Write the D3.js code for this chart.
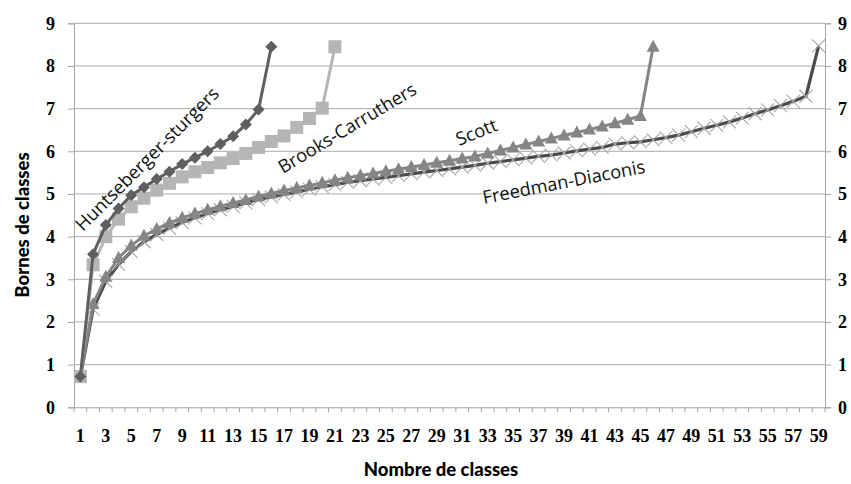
<!DOCTYPE html>
<html><head><meta charset="utf-8">
<script src="https://cdn.jsdelivr.net/npm/d3@7"></script>
<style>body{margin:0;background:#fff}svg{display:block}</style>
</head><body>
<svg id="c" width="851" height="484"></svg>
<script>
// ---- data ----
const categories = d3.range(1, 60); // 1..59
const yTicks = [0,1,2,3,4,5,6,7,8,9];
const xTickLabels = categories.filter(c => c % 2 === 1);
const huntseberger = [0.72,3.59,4.27,4.66,4.97,5.16,5.35,5.52,5.70,5.85,6.00,6.17,6.35,6.63,6.98,8.45];
const brooks = [0.72,3.34,4.00,4.41,4.70,4.90,5.09,5.25,5.40,5.52,5.62,5.73,5.83,5.95,6.09,6.23,6.36,6.56,6.77,7.01,8.45];
const scott = [0.72,2.42,3.06,3.50,3.79,4.02,4.18,4.32,4.44,4.54,4.63,4.71,4.79,4.86,4.94,5.01,5.08,5.14,5.20,5.26,
  5.32,5.38,5.43,5.48,5.53,5.58,5.63,5.68,5.73,5.78,5.83,5.88,5.95,6.02,6.09,6.16,6.23,6.30,6.37,6.44,
  6.51,6.58,6.66,6.74,6.83,8.45];
const freedman = [0.72,2.30,2.95,3.35,3.65,3.88,4.05,4.20,4.33,4.44,4.54,4.63,4.71,4.79,4.87,4.93,4.99,5.05,5.11,5.17,
  5.22,5.27,5.31,5.35,5.39,5.43,5.47,5.51,5.55,5.59,5.63,5.67,5.72,5.76,5.80,5.84,5.88,5.91,5.96,6.01,
  6.05,6.09,6.17,6.20,6.22,6.27,6.32,6.38,6.46,6.54,6.61,6.69,6.78,6.88,6.97,7.07,7.17,7.29,8.47];
const seriesNames = ["Huntseberger-sturgers","Brooks-Carruthers","Scott","Freedman-Diaconis"];

// ---- layout ----
const svg = d3.select("#c");
const L = 74, R = 825, T = 23.3, B = 407.3;
const x = d3.scaleBand().domain(categories).range([L, R]).padding(0);
const cx = c => x(c) + x.bandwidth() / 2;
const y = d3.scaleLinear().domain([0, 9]).range([B, T]);

// gridlines
svg.append("g").selectAll("line").data(yTicks.filter(t => t > 0)).join("line")
  .attr("x1", L).attr("x2", R).attr("y1", d => y(d)).attr("y2", d => y(d))
  .attr("stroke", "#ababab").attr("stroke-width", 1);

// axes
const tickFont = "'Liberation Serif', 'Times New Roman', serif";
const gL = svg.append("g").attr("transform", `translate(${L},0)`)
  .call(d3.axisLeft(y).tickValues(yTicks).tickSize(6).tickPadding(13).tickFormat(d3.format("d")));
const gR = svg.append("g").attr("transform", `translate(${R},0)`)
  .call(d3.axisRight(y).tickValues(yTicks).tickSize(6).tickPadding(7).tickFormat(d3.format("d")));
const gB = svg.append("g").attr("transform", `translate(0,${B})`)
  .call(d3.axisBottom(x).tickValues(xTickLabels).tickSize(0).tickPadding(22));
// category boundary ticks
svg.append("g").selectAll("line").data(d3.range(0, categories.length + 1)).join("line")
  .attr("x1", i => L + i * x.step()).attr("x2", i => L + i * x.step())
  .attr("y1", B).attr("y2", B + 5).attr("stroke", "#a6a6a6");

[gL, gR, gB].forEach(g => {
  g.select(".domain").attr("stroke", "#a6a6a6");
  g.selectAll(".tick line").attr("stroke", "#a6a6a6");
  g.selectAll("text").attr("font-family", tickFont).attr("font-weight", "bold")
    .attr("font-size", 18).attr("fill", "#000");
});

// axis titles
const titleFont = "Lato, 'Open Sans', sans-serif";
svg.append("text").attr("transform", "translate(29,225) rotate(-90)")
  .attr("text-anchor", "middle").attr("font-family", titleFont).attr("font-weight", 900)
  .attr("font-size", 18.5).text("Bornes de classes");
svg.append("text").attr("x", 441).attr("y", 476)
  .attr("text-anchor", "middle").attr("font-family", titleFont).attr("font-weight", 900)
  .attr("font-size", 18.5).text("Nombre de classes");

// ---- series ----
const line = d3.line().x((d, i) => cx(categories[i])).y(d => y(d));
const plot = svg.append("g");

// Freedman-Diaconis
plot.append("path").datum(freedman).attr("d", line).attr("fill", "none")
  .attr("stroke", "#4a4a4a").attr("stroke-width", 3.2).attr("stroke-linejoin", "round");
plot.append("g").selectAll("path").data(freedman).join("path")
  .attr("d", (d, i) => { const px = cx(categories[i]), py = y(d), s = 6.5;
    return `M${px-s},${py-s}L${px+s},${py+s}M${px-s},${py+s}L${px+s},${py-s}`; })
  .attr("stroke", "#a8a8a8").attr("stroke-width", 1.1).attr("fill", "none");

// Scott
plot.append("path").datum(scott).attr("d", line).attr("fill", "none")
  .attr("stroke", "#858585").attr("stroke-width", 3).attr("stroke-linejoin", "round");
plot.append("g").selectAll("path").data(scott).join("path")
  .attr("d", (d, i) => { const px = cx(categories[i]), py = y(d);
    return `M${px},${py-7}L${px+6.5},${py+5}L${px-6.5},${py+5}Z`; })
  .attr("fill", "#858585");

// Brooks-Carruthers
plot.append("path").datum(brooks).attr("d", line).attr("fill", "none")
  .attr("stroke", "#b5b5b5").attr("stroke-width", 3).attr("stroke-linejoin", "round");
plot.append("g").selectAll("rect").data(brooks).join("rect")
  .attr("x", (d, i) => cx(categories[i]) - 6.5).attr("y", d => y(d) - 6.5)
  .attr("width", 13).attr("height", 13).attr("fill", "#b5b5b5");

// Huntseberger-sturgers
plot.append("path").datum(huntseberger).attr("d", line).attr("fill", "none")
  .attr("stroke", "#5f5f5f").attr("stroke-width", 3).attr("stroke-linejoin", "round");
plot.append("g").selectAll("path").data(huntseberger).join("path")
  .attr("d", (d, i) => { const px = cx(categories[i]), py = y(d), s = 6;
    return `M${px},${py-s}L${px+s},${py}L${px},${py+s}L${px-s},${py}Z`; })
  .attr("fill", "#5f5f5f");

// ---- series labels ----
const labelFont = "'Open Sans', 'Noto Sans', sans-serif";
const labels = [
  {t: seriesNames[0], x: 83, y: 232, a: -45},
  {t: seriesNames[1], x: 283, y: 174, a: -31},
  {t: seriesNames[2], x: 459, y: 146, a: -22},
  {t: seriesNames[3], x: 484, y: 204, a: -11}
];
svg.append("g").selectAll("text").data(labels).join("text")
  .attr("transform", d => `translate(${d.x},${d.y}) rotate(${d.a})`)
  .attr("font-family", labelFont).attr("font-size", 18.3).attr("fill", "#111")
  .text(d => d.t);
</script>
</body></html>
